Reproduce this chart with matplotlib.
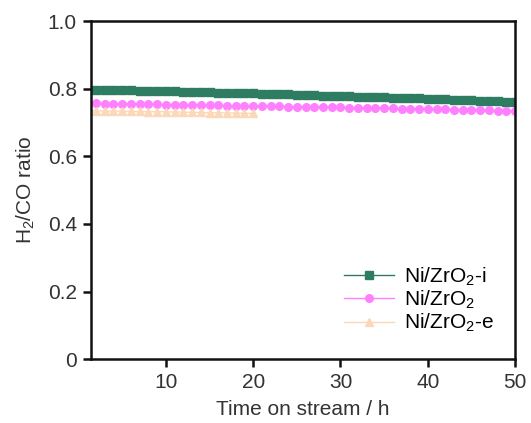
import matplotlib
matplotlib.use("Agg")
import matplotlib.pyplot as plt

plt.rcParams['font.family'] = ['Liberation Sans', 'DejaVu Sans']
plt.rcParams['mathtext.fontset'] = 'custom'
plt.rcParams['mathtext.rm'] = 'Liberation Sans'
plt.rcParams['mathtext.it'] = 'Liberation Sans'

# time on stream (h)
time_i = list(range(1, 51))
time_p = list(range(1, 51))
time_e = list(range(1, 21))

# H2/CO ratio for each catalyst
ratio_i = [0.797, 0.797, 0.796, 0.796, 0.795, 0.795, 0.794, 0.794, 0.793, 0.792,
           0.792, 0.791, 0.790, 0.790, 0.789, 0.788, 0.788, 0.787, 0.786, 0.786,
           0.785, 0.784, 0.784, 0.783, 0.782, 0.782, 0.781, 0.780, 0.780, 0.779,
           0.778, 0.777, 0.777, 0.776, 0.775, 0.774, 0.774, 0.773, 0.772, 0.771,
           0.770, 0.769, 0.768, 0.767, 0.766, 0.765, 0.764, 0.763, 0.762, 0.761]
ratio_p = [0.757, 0.757, 0.756, 0.756, 0.756, 0.755, 0.755, 0.754, 0.754, 0.753,
           0.753, 0.753, 0.752, 0.752, 0.751, 0.751, 0.750, 0.750, 0.750, 0.749,
           0.749, 0.748, 0.748, 0.747, 0.747, 0.747, 0.746, 0.746, 0.745, 0.745,
           0.744, 0.744, 0.743, 0.743, 0.742, 0.742, 0.741, 0.741, 0.740, 0.740,
           0.739, 0.739, 0.738, 0.738, 0.737, 0.736, 0.736, 0.735, 0.735, 0.734]
ratio_e = [0.735, 0.735, 0.734, 0.734, 0.734, 0.733, 0.733, 0.732, 0.732, 0.732,
           0.731, 0.731, 0.730, 0.730, 0.729, 0.729, 0.728, 0.728, 0.727, 0.727]

labels = ['Ni/ZrO$_2$-i', 'Ni/ZrO$_2$', 'Ni/ZrO$_2$-e']
colors = ['#2e7d63', '#ff80ff', '#fbd9b8']
txt = '#333333'

fig = plt.figure(figsize=(5.31, 4.23), dpi=100)
ax = fig.add_axes([0.171, 0.151, 0.799, 0.799])

ax.plot(time_i, ratio_i, color=colors[0], marker='s', markersize=5.5, lw=1.0, label=labels[0])
ax.plot(time_p, ratio_p, color=colors[1], marker='o', markersize=5.5, lw=1.0, label=labels[1])
ax.plot(time_e, ratio_e, color=colors[2], marker='^', markersize=5.5, lw=1.0, label=labels[2])

ax.set_xlim(1.4, 50)
ax.set_ylim(0, 1.0)
ax.set_xticks([10, 20, 30, 40, 50])
ax.set_yticks([0, 0.2, 0.4, 0.6, 0.8, 1.0])
ax.set_yticklabels(['0', '0.2', '0.4', '0.6', '0.8', '1.0'])
ax.tick_params(direction='out', length=6, width=1.8, labelsize=15, colors='#111111',
               labelcolor=txt, pad=4)
for s in ax.spines.values():
    s.set_linewidth(1.8)
    s.set_color('#111111')

ax.set_xlabel('Time on stream / h', fontsize=15, color=txt, labelpad=6)
ax.set_ylabel('H$_2$/CO ratio', fontsize=15, color=txt, labelpad=8)

ax.legend(loc='lower right', bbox_to_anchor=(0.985, 0.03), frameon=False, fontsize=15,
          handlelength=2.4, handletextpad=0.5, labelspacing=0.05, borderaxespad=0.3)

fig.savefig('out.png', dpi=100)
